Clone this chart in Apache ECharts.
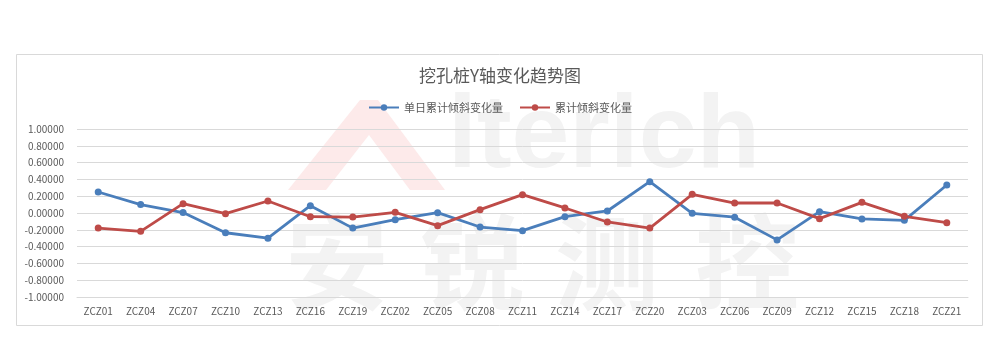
<!DOCTYPE html>
<html>
<head>
<meta charset="utf-8">
<script src="https://cdn.jsdelivr.net/npm/echarts@6/dist/echarts.min.js"></script>
<style>html,body{margin:0;padding:0;background:#fff;}#c{width:1000px;height:357px;}</style>
</head>
<body>
<div id="c"></div>
<script>
const categories = ['ZCZ01','ZCZ04','ZCZ07','ZCZ10','ZCZ13','ZCZ16','ZCZ19','ZCZ02','ZCZ05','ZCZ08','ZCZ11','ZCZ14','ZCZ17','ZCZ20','ZCZ03','ZCZ06','ZCZ09','ZCZ12','ZCZ15','ZCZ18','ZCZ21'];
const dailyChange = [0.25, 0.10, 0.005, -0.235, -0.30, 0.087, -0.18, -0.08, 0.004, -0.167, -0.21, -0.044, 0.024, 0.373, -0.004, -0.05, -0.32, 0.016, -0.071, -0.087, 0.333];
const totalChange = [-0.179, -0.218, 0.111, -0.008, 0.143, -0.044, -0.048, 0.008, -0.151, 0.04, 0.218, 0.06, -0.107, -0.179, 0.222, 0.119, 0.119, -0.067, 0.127, -0.04, -0.115];
const seriesNames = ['单日累计倾斜变化量', '累计倾斜变化量'];
const titleText = '挖孔桩Y轴变化趋势图';

const chart = echarts.init(document.getElementById('c'), null, {renderer: 'canvas'});
const font = '"Noto Sans CJK SC", "Noto Sans", sans-serif';
chart.setOption({
  backgroundColor: '#ffffff',
  animation: false,
  textStyle: {fontFamily: font},
  title: {
    text: titleText, left: 'center', top: 62,
    textStyle: {fontSize: 17, fontWeight: 'normal', color: '#595959', fontFamily: font}
  },
  legend: {
    top: 97, left: 'center', itemWidth: 30, itemHeight: 8, itemGap: 16,
    textStyle: {fontSize: 11, color: '#595959', fontFamily: font},
    data: seriesNames
  },
  grid: {left: 77, right: 32, top: 129, bottom: 60, containLabel: false},
  xAxis: {
    type: 'category', data: categories, boundaryGap: true,
    axisLine: {show: true, onZero: false, lineStyle: {color: '#d9d9d9'}},
    axisTick: {show: false},
    axisLabel: {color: '#595959', fontSize: 10, margin: 9, interval: 0, fontFamily: font}
  },
  yAxis: {
    type: 'value', min: -1, max: 1, interval: 0.2,
    axisLine: {show: false}, axisTick: {show: false},
    splitLine: {lineStyle: {color: '#d9d9d9', width: 1}},
    axisLabel: {color: '#595959', fontSize: 10, margin: 13, fontFamily: font,
      formatter: v => v.toFixed(5)}
  },
  graphic: [
    {type: 'rect', z: -10, shape: {x: 16.5, y: 54.5, width: 966, height: 271}, style: {fill: 'none', stroke: '#d9d9d9', lineWidth: 1}},
    {type: 'polygon', z: -5, shape: {points: [[288,190],[360,100],[378,100],[445,190],[410,190],[369,135],[326,190]]}, style: {fill: '#fdeaea'}},
    {type: 'text', z: -5, left: 448, top: 86, style: {text: 'iterich', fontSize: 104, fontWeight: 'bold', fontFamily: 'Liberation Sans, Arial, sans-serif', fill: '#f3f3f3'}},
    {type: 'text', z: -5, left: 285, top: 210, style: {text: '安', fontSize: 104, fontWeight: 'bold', fontFamily: font, fill: '#f3f3f3'}},
    {type: 'text', z: -5, left: 420, top: 210, style: {text: '锐', fontSize: 104, fontWeight: 'bold', fontFamily: font, fill: '#f3f3f3'}},
    {type: 'text', z: -5, left: 555, top: 210, style: {text: '测', fontSize: 104, fontWeight: 'bold', fontFamily: font, fill: '#f3f3f3'}},
    {type: 'text', z: -5, left: 695, top: 210, style: {text: '控', fontSize: 104, fontWeight: 'bold', fontFamily: font, fill: '#f3f3f3'}}
  ],
  series: [
    {name: seriesNames[0], type: 'line', data: dailyChange, symbol: 'circle', symbolSize: 7,
     lineStyle: {color: '#4a7ebb', width: 2.8}, itemStyle: {color: '#4a7ebb'}},
    {name: seriesNames[1], type: 'line', data: totalChange, symbol: 'circle', symbolSize: 7,
     lineStyle: {color: '#be4b48', width: 2.8}, itemStyle: {color: '#be4b48'}}
  ]
});
</script>
</body>
</html>
